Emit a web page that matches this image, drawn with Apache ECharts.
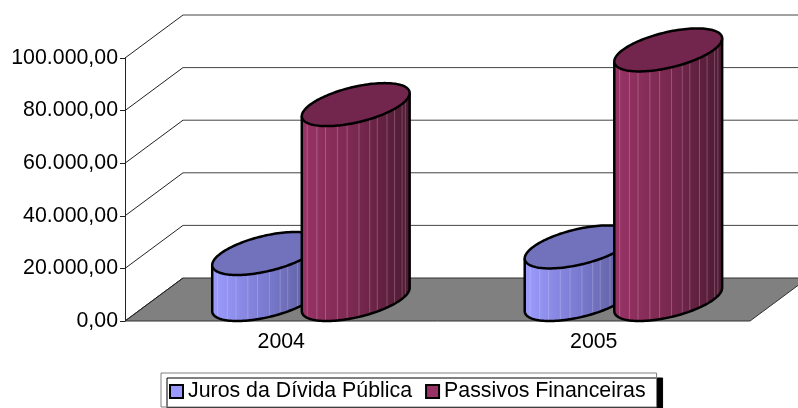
<!DOCTYPE html>
<html><head><meta charset="utf-8">
<style>html,body{margin:0;padding:0;background:#fff}#c{width:798px;height:408px}</style>
<script src="https://cdn.jsdelivr.net/npm/echarts@6/dist/echarts.min.js"></script>
</head><body><div id="c"></div>
<script>
const categories = ['2004', '2005'];
const juros = [17500, 20000];
const passivos = [74100, 94900];
const yTicks = [0, 20000, 40000, 60000, 80000, 100000];
const yTickLabels = ['0,00', '20.000,00', '40.000,00', '60.000,00', '80.000,00', '100.000,00'];

const DX = 58, DY = -43, BAR = 0.1455;
const STRIPES = [.05, .14, .22, .33, .42, .53, .63, .70, .79, .86, .93, .96];
const chart = echarts.init(document.getElementById('c'), null, {renderer: 'canvas'});

function wall(params, api) {
  const cs = params.coordSys, y = api.coord([0, api.value(0)])[1];
  const L = cs.x, R = cs.x + cs.width;
  const kids = [{type: 'line', shape: {x1: L, y1: y, x2: L + DX, y2: y + DY}, style: {stroke: '#222', lineWidth: 1}}];
  if (api.value(0) === 0) {
    kids.unshift({type: 'polygon', shape: {points: [[L, y], [R, y], [R + DX, y + DY], [L + DX, y + DY]]},
      style: {fill: '#808080', stroke: '#333', lineWidth: 1}});
  } else {
    kids.push({type: 'line', shape: {x1: L + DX, y1: y + DY, x2: R + DX, y2: y + DY}, style: {stroke: '#444', lineWidth: 1}});
  }
  return {type: 'group', children: kids};
}

function cylinder(offset, cols) {
  return function (params, api) {
    const band = api.size([1, 0])[0], A = band * BAR;
    const base = api.coord([api.value(0), 0]), top = api.coord([api.value(0), api.value(1)]);
    const cx = base[0] + offset * A + DX / 2, by = base[1] + DY / 2, ty = top[1] + DY / 2;
    const pt = (t, cy) => [cx + A * Math.cos(t) + (DX / 2) * Math.sin(t), cy + (DY / 2) * Math.sin(t)];
    const t0 = Math.atan2(DX / 2, A);
    const tL = t0 + Math.PI;
    const N = 72, arcB = [], arcT = [], full = [];
    for (let i = 0; i <= N; i++) {
      const t = tL + (i / N) * Math.PI;
      arcB.push(pt(t, by)); arcT.push(pt(t, ty));
    }
    for (let i = 0; i < 2 * N; i++) full.push(pt(i / N * Math.PI, ty));
    const kids = [];
    kids.push({type: 'polygon', shape: {points: arcB.concat(arcT.slice().reverse())},
      style: {fill: new echarts.graphic.LinearGradient(0, 0, 1, 0, cols.body)}});
    STRIPES.forEach((f) => {
      const t = tL + Math.acos(1 - 2 * f), a = pt(t, by), b = pt(t, ty);
      kids.push({type: 'line', shape: {x1: a[0], y1: a[1], x2: b[0], y2: b[1]},
        style: {stroke: cols.stripe, lineWidth: 1}});
    });
    kids.push({type: 'polyline', shape: {points: [arcT[0]].concat(arcB, [arcT[N]])},
      style: {fill: 'none', stroke: '#000', lineWidth: 2.5}});
    kids.push({type: 'polygon', shape: {points: full},
      style: {fill: cols.top, stroke: '#000', lineWidth: 2.5}});
    return {type: 'group', children: kids};
  };
}

const jurosCols = {
  body: [{offset: 0, color: '#9c9cff'}, {offset: .5, color: '#7a7ad0'}, {offset: 1, color: '#5a5a96'}],
  top: '#7272bc', stripe: 'rgba(255,255,255,0.2)'
};
const passCols = {
  body: [{offset: 0, color: '#993366'}, {offset: .5, color: '#7a2850'}, {offset: 1, color: '#4d1a33'}],
  top: '#73264d', stripe: 'rgba(255,255,255,0.22)'
};
const LF = 'Liberation Sans', FS = 21.33;

chart.setOption({
  animation: false,
  backgroundColor: '#fff',
  grid: {left: 125, right: 48, top: 58, bottom: 87},
  xAxis: {type: 'category', data: categories,
    axisLine: {show: false}, axisTick: {show: false},
    axisLabel: {color: '#000', fontFamily: LF, fontSize: FS, margin: 11}},
  yAxis: {type: 'value', min: 0, max: 100000, interval: 20000,
    axisLine: {show: true, lineStyle: {color: '#222', width: 1}},
    axisTick: {show: true, length: 5, lineStyle: {color: '#222', width: 1}},
    splitLine: {show: false},
    axisLabel: {color: '#000', fontFamily: LF, fontSize: FS, margin: 7, padding: [3, 0, 0, 0],
      formatter: (v) => yTickLabels[yTicks.indexOf(v)]}},
  legend: {left: 161, top: 373, padding: [8, 11, 5, 8], itemGap: 13, itemWidth: 13, itemHeight: 13,
    backgroundColor: '#fff', borderColor: '#808080', borderWidth: 1,
    shadowColor: '#000', shadowBlur: 0, shadowOffsetX: 6, shadowOffsetY: 5,
    textStyle: {color: '#000', fontFamily: LF, fontSize: FS},
    data: [
      {name: 'Juros da Dívida Pública', icon: 'rect', itemStyle: {color: '#9999ff', borderColor: '#000', borderWidth: 2}},
      {name: 'Passivos Financeiras', icon: 'rect', itemStyle: {color: '#993366', borderColor: '#000', borderWidth: 2}}
    ]},
  series: [
    {type: 'custom', name: '_wall', silent: true, data: yTicks.map((v) => [v]), encode: {y: 0}, renderItem: wall, z: 1},
    {type: 'custom', name: 'Juros da Dívida Pública', itemStyle: {color: '#9999ff'}, z: 2,
      data: juros.map((v, i) => [i, v]), encode: {x: 0, y: 1}, renderItem: cylinder(-0.97, jurosCols)},
    {type: 'custom', name: 'Passivos Financeiras', itemStyle: {color: '#993366'}, z: 3,
      data: passivos.map((v, i) => [i, v]), encode: {x: 0, y: 1}, renderItem: cylinder(1, passCols)}
  ]
});
</script></body></html>
